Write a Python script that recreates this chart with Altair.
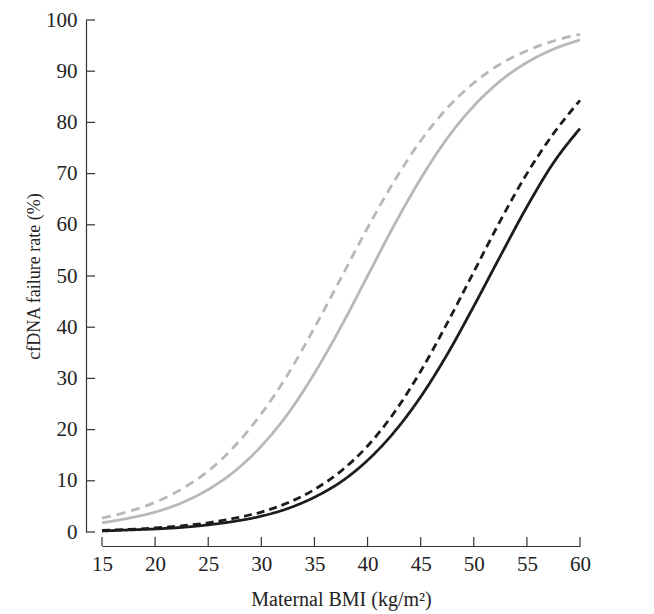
import altair as alt
import pandas as pd

# Maternal BMI (kg/m2) sample points
bmi = [15, 17.5, 20, 22.5, 25, 27.5, 30, 32.5, 35, 37.5, 40, 42.5, 45, 47.5, 50, 52.5, 55, 57.5, 60]

# cfDNA failure rate (%)
gray_dashed = [2.7, 4.0, 5.8, 8.4, 11.9, 16.8, 23.1, 30.8, 39.9, 49.6, 59.4, 68.5, 76.4, 82.8, 87.7, 91.4, 94.0, 95.9, 97.2]
gray_solid = [1.8, 2.7, 3.9, 5.7, 8.3, 11.9, 16.8, 23.1, 31.0, 40.1, 50.0, 59.9, 69.0, 76.9, 83.2, 88.1, 91.7, 94.3, 96.1]
black_dashed = [0.3, 0.5, 0.8, 1.2, 1.8, 2.7, 3.9, 5.7, 8.3, 11.9, 16.8, 23.3, 31.4, 40.8, 50.8, 60.8, 70.0, 77.8, 84.3]
black_solid = [0.2, 0.4, 0.6, 0.9, 1.4, 2.1, 3.1, 4.6, 6.8, 9.8, 14.0, 19.5, 26.4, 34.7, 44.1, 53.9, 63.5, 72.1, 78.8]

series_names = ["gray_dashed", "gray_solid", "black_dashed", "black_solid"]
series_values = [gray_dashed, gray_solid, black_dashed, black_solid]

x_ticks = [15, 20, 25, 30, 35, 40, 45, 50, 55, 60]
y_ticks = [0, 10, 20, 30, 40, 50, 60, 70, 80, 90, 100]

rows = []
for name, vals in zip(series_names, series_values):
    for b, v in zip(bmi, vals):
        rows.append({"bmi": b, "rate": v, "series": name})
df = pd.DataFrame(rows)

W, H = 478, 512
FONT = "Liberation Serif"
AXIS_COLOR = "#333333"

x_scale = alt.Scale(domain=[15, 60], nice=False, zero=False)
y_scale = alt.Scale(domain=[0, 100], nice=False)

lines = alt.Chart(df).mark_line(strokeWidth=2.8, interpolate="monotone").encode(
    x=alt.X("bmi:Q", scale=x_scale,
            axis=alt.Axis(values=x_ticks, offset=14, tickSize=0, labelPadding=7,
                          labelFlush=False, labelOverlap=False,
                          title="Maternal BMI (kg/m²)", titlePadding=15,
                          titleFontSize=20, grid=False)),
    y=alt.Y("rate:Q", scale=y_scale,
            axis=alt.Axis(values=y_ticks, offset=16, tickSize=0, labelPadding=9,
                          labelFlush=False, labelOverlap=False,
                          title="cfDNA failure rate (%)", titlePadding=2,
                          titleFontSize=18, grid=False)),
    color=alt.Color("series:N", legend=None,
                    scale=alt.Scale(domain=series_names,
                                    range=["#b8b8b8", "#b8b8b8", "#1c1c1c", "#1c1c1c"])),
    strokeDash=alt.StrokeDash("series:N", legend=None,
                              scale=alt.Scale(domain=series_names,
                                              range=[[9, 6], [1, 0], [8, 5], [1, 0]])),
    detail="series:N",
)

ytick_df = pd.DataFrame({"v": y_ticks})
ytick_rules = alt.Chart(ytick_df).mark_rule(color=AXIS_COLOR, strokeWidth=1.2).encode(
    y=alt.Y("v:Q", scale=y_scale),
    x=alt.value(-16),
    x2=alt.value(-7),
)

xtick_df = pd.DataFrame({"v": x_ticks})
xtick_rules = alt.Chart(xtick_df).mark_rule(color=AXIS_COLOR, strokeWidth=1.2).encode(
    x=alt.X("v:Q", scale=x_scale),
    y=alt.value(H + 14),
    y2=alt.value(H + 5),
)

chart = alt.layer(lines, ytick_rules, xtick_rules).properties(
    width=W, height=H,
    autosize=alt.AutoSizeParams(type="none"),
    padding={"left": 94, "top": 12, "right": 60, "bottom": 90},
    background="white",
).configure_view(stroke=None).configure_axis(
    domainColor=AXIS_COLOR, domainWidth=1.2,
    labelFont=FONT, labelFontSize=21, labelColor="#222222",
    titleFont=FONT, titleColor="#222222", titleFontWeight="normal",
)

chart.save("out.html", embed_options={"renderer": "svg", "actions": False})
